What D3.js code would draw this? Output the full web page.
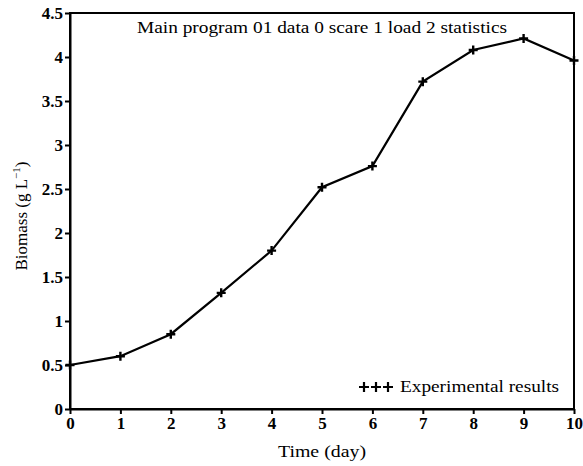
<!DOCTYPE html>
<html>
<head>
<meta charset="utf-8">
<style>
  body { margin: 0; background: #fff; }
</style>
</head>
<body>
<svg width="583" height="466"></svg>
<script src="https://d3js.org/d3.v7.min.js"></script>
<script>
// data
var days = [0, 1, 2, 3, 4, 5, 6, 7, 8, 9, 10];
var biomass = [0.5, 0.6, 0.85, 1.32, 1.8, 2.52, 2.76, 3.72, 4.08, 4.21, 3.96];
var xTicks = [0, 1, 2, 3, 4, 5, 6, 7, 8, 9, 10];
var yTicks = [0, 0.5, 1, 1.5, 2, 2.5, 3, 3.5, 4, 4.5];

var serif = "'Liberation Serif', 'Times New Roman', 'DejaVu Serif', serif";
var svg = d3.select("svg");
var margin = {top: 13, right: 9, bottom: 57, left: 70};
var width = +svg.attr("width") - margin.left - margin.right;
var height = +svg.attr("height") - margin.top - margin.bottom;

var g = svg.append("g")
    .attr("transform", "translate(" + margin.left + "," + margin.top + ")");

var x = d3.scaleLinear().domain([0, 10]).range([0, width]);
var y = d3.scaleLinear().domain([0, 4.5]).range([height, 0]);

// frame
g.append("rect")
    .attr("width", width)
    .attr("height", height)
    .attr("fill", "none")
    .attr("stroke", "#000")
    .attr("stroke-width", 2);

var xAxis = g.append("g")
    .attr("transform", "translate(0," + height + ")")
    .call(d3.axisBottom(x).tickValues(xTicks).tickFormat(d3.format("d")).tickSize(5).tickPadding(3).tickSizeOuter(0));

var yAxis = g.append("g")
    .call(d3.axisLeft(y).tickValues(yTicks).tickFormat(function(d) { return String(d); }).tickSize(5).tickPadding(2).tickSizeOuter(0));

[xAxis, yAxis].forEach(function(a) {
  a.attr("font-family", serif).attr("font-size", 17).attr("font-weight", "bold");
  a.select(".domain").attr("stroke-width", 2);
  a.selectAll(".tick line").attr("stroke-width", 2);
  a.selectAll(".tick text").attr("fill", "#000");
});

// series line
var line = d3.line()
    .x(function(d, i) { return x(days[i]); })
    .y(function(d) { return y(d); });

g.append("path")
    .datum(biomass)
    .attr("fill", "none")
    .attr("stroke", "#000")
    .attr("stroke-width", 2.2)
    .attr("d", line);

// plus markers
g.selectAll(".mk")
    .data(biomass)
    .enter().append("path")
    .attr("class", "mk")
    .attr("transform", function(d, i) { return "translate(" + x(days[i]) + "," + y(d) + ")"; })
    .attr("d", "M-4.5,0H4.5M0,-4.5V4.5")
    .attr("stroke", "#000")
    .attr("stroke-width", 2.4);

// title inside plot
g.append("text")
    .attr("x", width / 2)
    .attr("y", 20)
    .attr("text-anchor", "middle")
    .attr("font-family", serif)
    .attr("font-size", 16)
    .attr("textLength", 370)
    .attr("lengthAdjust", "spacingAndGlyphs")
    .text("Main program 01 data 0 scare 1 load 2 statistics");

// legend
var leg = g.append("g").attr("transform", "translate(" + (width - 210) + "," + (height - 22) + ")");
[0, 12, 24].forEach(function(dx) {
  leg.append("path")
      .attr("d", "M" + (dx - 5) + ",0H" + (dx + 5) + "M" + dx + ",-5V5")
      .attr("stroke", "#000")
      .attr("stroke-width", 2.2);
});
leg.append("text")
    .attr("x", 36)
    .attr("y", 5)
    .attr("font-family", serif)
    .attr("font-size", 16)
    .attr("textLength", 159)
    .attr("lengthAdjust", "spacingAndGlyphs")
    .text("Experimental results");

// axis titles
svg.append("text")
    .attr("x", margin.left + width / 2)
    .attr("y", 457)
    .attr("text-anchor", "middle")
    .attr("font-family", serif)
    .attr("font-size", 16)
    .attr("textLength", 88)
    .attr("lengthAdjust", "spacingAndGlyphs")
    .text("Time (day)");

var yl = svg.append("text")
    .attr("transform", "translate(27,216) rotate(-90)")
    .attr("text-anchor", "middle")
    .attr("font-family", serif)
    .attr("font-size", 17);
yl.append("tspan").text("Biomass (g L");
yl.append("tspan").attr("dy", -7).attr("font-size", 11).text("\u22121");
yl.append("tspan").attr("dy", 7).text(")");
</script>
</body>
</html>
